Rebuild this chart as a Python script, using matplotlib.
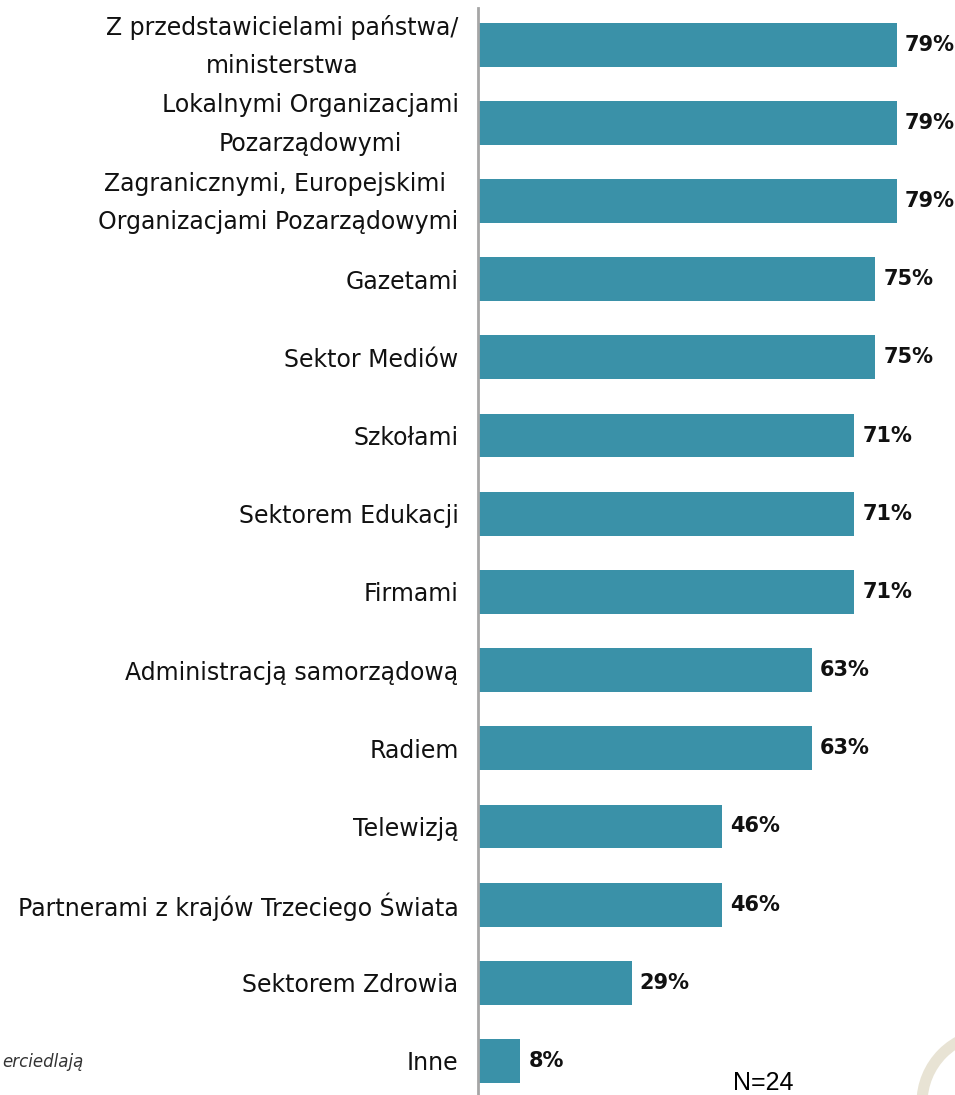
import matplotlib.pyplot as plt
from matplotlib.patches import Circle
from matplotlib.transforms import ScaledTranslation

# Data
labels = [
    'Z przedstawicielami państwa/\nministerstwa',
    'Lokalnymi Organizacjami\nPozarządowymi',
    'Zagranicznymi, Europejskimi \nOrganizacjami Pozarządowymi',
    'Gazetami',
    'Sektor Mediów',
    'Szkołami',
    'Sektorem Edukacji',
    'Firmami',
    'Administracją samorządową',
    'Radiem',
    'Telewizją',
    'Partnerami z krajów Trzeciego Świata',
    'Sektorem Zdrowia',
    'Inne',
]
values = [79, 79, 79, 75, 75, 71, 71, 71, 63, 63, 46, 46, 29, 8]

BAR_COLOR = '#3a91a8'

fig = plt.figure(figsize=(9.55, 10.95), dpi=100)
ax = fig.add_axes([0.5005, 0.0, 0.4995, 0.993])

pos = list(range(len(values)))
ax.barh(pos, values, height=0.56, color=BAR_COLOR)

for y, v in zip(pos, values):
    ax.text(v + 1.5, y, f'{v}%', va='center', ha='left',
            fontsize=15, fontweight='bold', color='#111111')

ax.set_yticks(pos)
ax.set_yticklabels(labels, fontsize=17, color='#111111', multialignment='center',
                   linespacing=1.75)
ax.tick_params(axis='y', length=0, pad=14)
ax.set_xticks([])
ax.set_xlim(0, 90)
ax.set_ylim(13.435, -0.473)

# two-line labels sit a bit higher in the original
shift = ScaledTranslation(0, 0.08, fig.dpi_scale_trans)
for lab in ax.get_yticklabels():
    if '\n' in lab.get_text():
        lab.set_transform(lab.get_transform() + shift)

for s in ['top', 'right', 'bottom']:
    ax.spines[s].set_visible(False)
ax.spines['left'].set_color('#a6a6a6')
ax.spines['left'].set_linewidth(2)

# footer bits
fig.text(0.002, 1 - 1062 / 1095, 'erciedlają', ha='left', va='center',
         fontsize=12, style='italic', color='#333333')
fig.text(763 / 955, 1 - 1083 / 1095, 'N=24', ha='center', va='center',
         fontsize=18, family='Liberation Sans', color='black')

ring = Circle((9.92, -0.08), 0.70, transform=fig.dpi_scale_trans,
              fill=False, edgecolor='#e8e3d4', linewidth=8, clip_on=False)
fig.patches.append(ring)

fig.savefig('out.png', dpi=100)
